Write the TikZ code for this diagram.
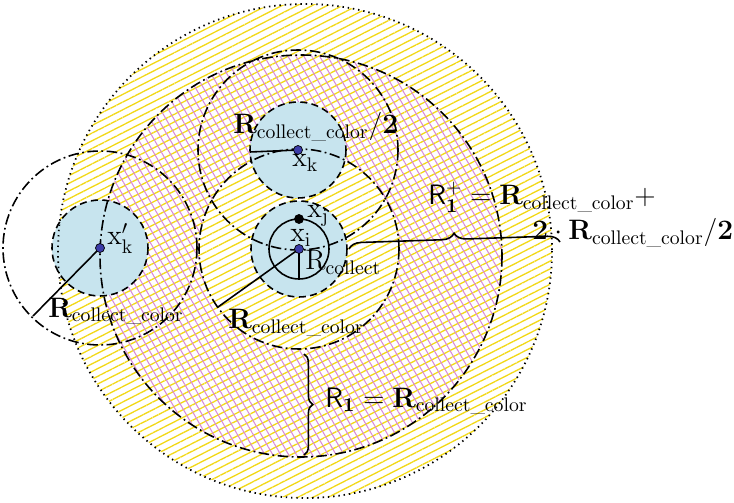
\RequirePackage{fix-cm}
\documentclass[tikz,border=0pt]{standalone}
\usepackage{amsmath}
\usepackage{tikz}
\usetikzlibrary{patterns.meta, decorations.pathreplacing, calc}
\definecolor{hatchyellow}{HTML}{F2D817}
\definecolor{hatchpink}{HTML}{D98AD9}
\definecolor{discblue}{HTML}{C7E4EE}
\definecolor{dotblue}{HTML}{3C3CA8}
\tikzset{
  dashdot/.style={line width=0.9pt, dash pattern=on 6pt off 2pt on 1pt off 2pt},
  outerdots/.style={line width=1pt, dash pattern=on 0.8pt off 2.2pt},
  discedge/.style={line width=0.9pt, dash pattern=on 4pt off 2.5pt},
  radiusline/.style={line width=0.9pt},
  lbl/.style={anchor=base west, inner sep=0pt, font=\fontsize{16}{19}\selectfont},
}
\newcommand{\colordisc}[1]{%
  \fill[discblue] (#1) circle (48);
  \draw[discedge] (#1) circle (48);
}
\newcommand{\pointdot}[2]{%
  \fill[#2, draw=black, line width=0.4pt] (#1) circle (4.5);
}

\begin{document}
\begin{tikzpicture}[x=0.02cm, y=-0.02cm]
    \useasboundingbox (0,0) rectangle (734,503);
    \coordinate (xi) at (299,249);
    \coordinate (xk) at (298,150);
    \coordinate (xkp) at (100,248);
    \coordinate (xj) at (299,219);
    \coordinate (bigc) at (301,256);
    \coordinate (outc) at (305,251);

    % hatched areas
    \fill[pattern={Lines[angle=27,distance=3.9pt,line width=0.75pt]}, pattern color=hatchyellow] (outc) circle (247);
    \fill[pattern={Lines[angle=-60,distance=3.9pt,line width=0.6pt]}, pattern color=hatchpink, even odd rule] (bigc) circle (201) (xi) circle (100);

    % color discs
    \colordisc{xk} \colordisc{xi} \colordisc{xkp}

    % circles of radius R_collect_color and the outer ones
    \draw[dashdot] (xk) circle (100);
    \draw[dashdot] (xi) circle (100);
    \draw[dashdot] (xkp) circle (97);
    \draw[dashdot] (bigc) circle (201);
    \draw[outerdots] (outc) circle (247);
    \draw[radiusline] (xi) circle (30);

    % radius lines
    \coordinate (kend) at (250,152);
    \coordinate (iend) at (218,307);
    \coordinate (cend) at (299,279);
    \coordinate (kpend) at (33,316);
    \draw[radiusline] (xk) -- (kend);
    \draw[radiusline] (xi) -- (iend);
    \draw[radiusline] (xi) -- (cend);
    \draw[radiusline] (xkp) -- (kpend);

    \pointdot{xk}{dotblue} \pointdot{xi}{dotblue} \pointdot{xkp}{dotblue}
    \pointdot{xj}{black}

    % braces
    \coordinate (onetop) at (304,354);
    \coordinate (onebot) at (304,455);
    \coordinate (plusa) at (349,249);
    \coordinate (plusb) at (560,242);
    \draw[radiusline, decorate, decoration={brace, amplitude=5pt}] (onetop) -- (onebot);
    \draw[radiusline, decorate, decoration={brace, amplitude=7pt}] (plusa) -- (plusb);

    % labels
    \node[lbl] (rhalf) at (233,134) {$\mathbf{R}_{\mathrm{collect\_color}}\mathbf{/2}$};
    \node[lbl] (lk) at (292,167) {$\mathrm{x_k}$};
    \node[lbl] (lj) at (307,218) {$\mathrm{x_j}$};
    \node[lbl] (li) at (290,242) {$\mathrm{x_i}$};
    \node[lbl] (lcol) at (305,270) {$\mathrm{R_{collect}}$};
    \node[lbl] (lkp) at (107,245) {$\mathrm{x}'_{\mathrm{k}}$};
    \node[lbl] (lccl) at (48,317) {$\mathbf{R}_{\mathrm{collect\_color}}$};
    \node[lbl] (lccm) at (228,329) {$\mathbf{R}_{\mathrm{collect\_color}}$};
    \node[lbl] (lplus) at (428,205) {$\mathsf{R}_{\mathbf{1}}^{+} = \mathbf{R}_{\mathrm{collect\_color}}{+}$};
    \node[lbl] (lplustwo) at (532,240) {$\mathbf{2}\cdot\mathbf{R}_{\mathrm{collect\_color}}\mathbf{/2}$};
    \node[lbl] (lone) at (325,407) {$\mathsf{R}_{\mathbf{1}} = \mathbf{R}_{\mathrm{collect\_color}}$};
\end{tikzpicture}
\end{document}
